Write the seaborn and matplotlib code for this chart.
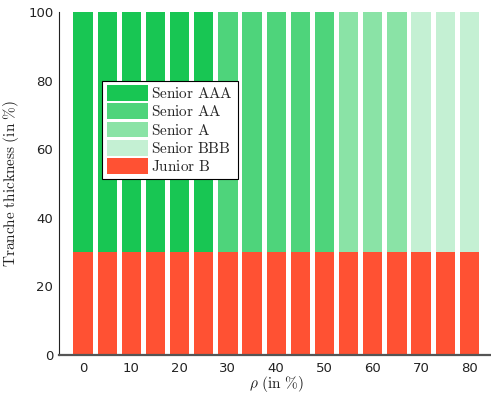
import pandas as pd
import matplotlib
matplotlib.use("Agg")
from matplotlib import pyplot as plt
import seaborn as sns

# correlation rho (in %) and the rating of the senior tranche at each rho
rho = [0, 5, 10, 15, 20, 25, 30, 35, 40, 45, 50, 55, 60, 65, 70, 75, 80]
senior_rating = ["Senior AAA"] * 6 + ["Senior AA"] * 5 + ["Senior A"] * 3 + ["Senior BBB"] * 3
junior = [30] * 17
total = [100] * 17

ratings = ["Senior AAA", "Senior AA", "Senior A", "Senior BBB"]
colors = ["#18c653", "#4ed47b", "#8ae3a6", "#c4f0d3"]
red = "#ff5133"

df = pd.DataFrame({"rho": rho, "rating": senior_rating, "total": total, "junior": junior})

sns.set_style("white")
plt.rcParams["mathtext.fontset"] = "cm"

fig = plt.figure(figsize=(4.91, 3.96), dpi=100)
ax = fig.add_axes([0.12, 0.1035, 0.885, 0.8665])

sns.barplot(data=df, x="rho", y="total", hue="rating", hue_order=ratings,
            palette=colors, saturation=1, native_scale=True, dodge=False,
            width=0.8, linewidth=0, ax=ax)
sns.barplot(data=df, x="rho", y="junior", color=red, saturation=1,
            native_scale=True, width=0.8, linewidth=0, label="Junior B", ax=ax)

ax.set_xlim(-5, 85)
ax.set_ylim(0, 100)
ax.set_xticks(range(0, 81, 10))
ax.set_yticks(range(0, 101, 20))
ax.tick_params(axis="both", direction="in", labelsize=9.5, colors="#222222")
ax.tick_params(axis="x", length=4, width=0.8, pad=5)
ax.tick_params(axis="y", length=3, width=0.8, pad=4)
for s in ["top", "right"]:
    ax.spines[s].set_visible(False)
ax.spines["left"].set_color("#222222")
ax.spines["left"].set_linewidth(0.8)
ax.spines["bottom"].set_color("#555555")
ax.spines["bottom"].set_linewidth(1.6)
ax.set_axisbelow(False)

ax.set_xlabel(r"$\rho\ \mathrm{(in\ \%)}$", fontsize=11, color="#222222", labelpad=-1)
ax.set_ylabel(r"$\mathrm{Tranche\ thickness\ (in\ \%)}$", fontsize=11,
              color="#222222", labelpad=5)

handles, labels = ax.get_legend_handles_labels()
leg = ax.legend(handles, [r"$\mathrm{%s}$" % l.replace(" ", r"\ ") for l in labels],
                loc="upper left", bbox_to_anchor=(0.1, 0.8), fancybox=False,
                framealpha=1, edgecolor="black", fontsize=11, handlelength=2.7,
                handleheight=1.2, borderpad=0.3, labelspacing=0.15,
                handletextpad=0.2, borderaxespad=0)
leg.get_frame().set_linewidth(0.8)

fig.savefig("out.png", dpi=100)
